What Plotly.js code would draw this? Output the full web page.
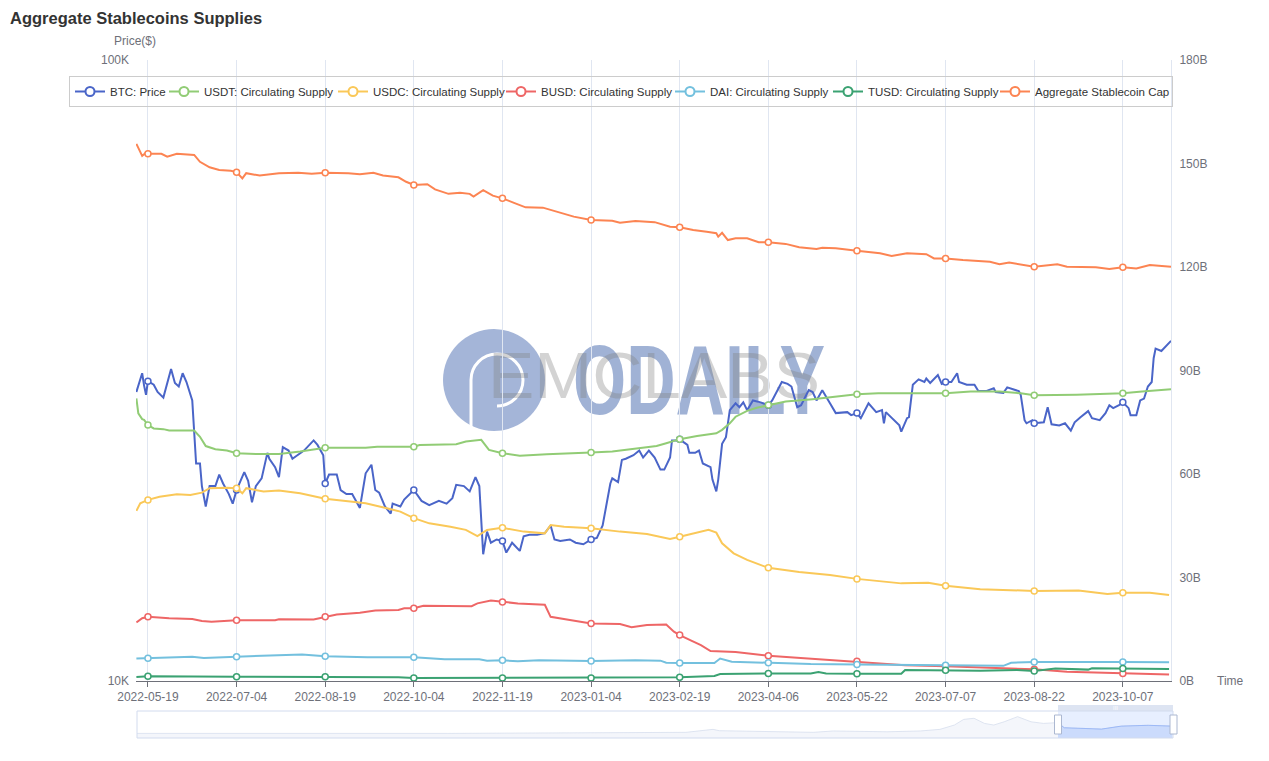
<!DOCTYPE html>
<html>
<head>
<meta charset="utf-8">
<script src="https://cdn.plot.ly/plotly-3.0.1.min.js"></script>
<style>html,body{margin:0;padding:0;background:#fff;}#chart{width:1269px;height:761px;}</style>
</head>
<body>
<div id="chart"></div>
<script>
// ---- DATA (day offset from 2022-05-19, value) ----
const seriesNames = ['BTC: Price','USDT: Circulating Supply','USDC: Circulating Supply','BUSD: Circulating Supply','DAI: Circulating Supply','TUSD: Circulating Supply','Aggregate Stablecoin Cap'];
const seriesColors = ['#4a65c8','#91cc75','#fac858','#ee6666','#73c0de','#3ba272','#fc8452'];

// BTC price, thousands of USD
const btcK = [[-6,29.2],[-3,31.3],[-2,29.9],[-1,28.9],[0,30.4],[3,30.0],[5,29.2],[8,28.6],[12,31.8],[14,30.2],[16,29.8],[18,31.3],[20,30.3],[23,28.3],[25,22.4],[27,22.4],[28,20.6],[30,19.1],[32,20.6],[35,20.6],[37,21.5],[39,20.8],[42,20.0],[44,19.3],[46,20.3],[50,21.7],[52,21.0],[54,19.4],[56,20.6],[59,21.2],[62,23.3],[63,22.8],[66,22.1],[68,21.3],[70,23.8],[73,23.5],[75,22.8],[79,23.3],[81,23.5],[86,24.4],[88,24.0],[91,23.1],[92,20.8],[94,21.5],[98,21.5],[100,20.3],[103,20.0],[106,20.0],[110,19.0],[113,21.6],[116,22.3],[118,20.3],[120,20.1],[123,19.1],[126,18.6],[127,19.3],[131,19.1],[133,19.6],[138,20.3],[142,19.5],[146,19.2],[151,19.5],[155,19.3],[158,19.7],[160,20.7],[164,20.6],[167,20.2],[170,21.3],[172,20.6],[174,16.0],[176,17.4],[178,16.7],[181,16.9],[184,16.8],[186,16.1],[189,16.7],[193,16.2],[195,17.1],[198,17.2],[202,17.2],[206,17.3],[209,17.8],[211,16.9],[214,16.8],[219,16.9],[222,16.7],[226,16.6],[230,16.9],[233,17.0],[236,17.8],[240,20.8],[241,21.2],[244,20.9],[246,22.7],[248,22.8],[252,23.1],[255,23.5],[257,22.9],[260,23.5],[263,22.9],[266,21.9],[268,21.9],[271,22.9],[272,24.4],[274,24.4],[276,24.5],[280,24.0],[281,23.3],[284,23.3],[286,23.5],[288,22.4],[292,22.1],[293,21.1],[295,20.2],[296,21.1],[298,24.1],[300,24.7],[302,27.3],[305,28.0],[307,27.6],[309,28.1],[311,27.3],[314,28.3],[318,28.1],[322,27.8],[324,28.3],[329,30.3],[332,30.1],[334,29.8],[337,27.6],[339,27.8],[343,29.4],[345,29.2],[347,28.3],[350,29.4],[354,28.0],[357,27.0],[363,27.1],[365,26.8],[368,27.0],[370,26.5],[374,28.0],[378,27.1],[381,27.3],[382,26.0],[383,27.1],[387,26.3],[390,25.8],[391,25.2],[394,26.5],[395,26.6],[397,30.0],[400,30.6],[403,30.3],[404,30.7],[406,30.2],[410,31.1],[412,30.1],[414,30.3],[417,30.3],[420,31.3],[421,30.3],[425,30.0],[429,30.0],[431,29.3],[435,29.3],[439,29.6],[440,29.2],[444,29.1],[446,29.7],[449,29.5],[452,29.3],[453,28.9],[455,26.3],[456,26.0],[459,26.3],[460,26.0],[464,26.1],[465,26.1],[467,27.6],[469,25.9],[473,25.8],[476,26.0],[479,25.3],[481,26.1],[484,26.6],[488,27.2],[490,26.5],[494,26.3],[497,27.0],[499,27.8],[501,27.5],[504,27.8],[506,28.1],[509,27.5],[510,26.8],[513,26.8],[515,28.3],[517,28.5],[519,29.8],[521,30.3],[522,33.1],[523,34.3],[526,34.0],[528,34.5],[529,34.8],[531,35.3]];

// Stablecoin supplies, billions of USD
const usdtB = [[-6,81.9],[-5,77.6],[-3,75.9],[-2,75.7],[0,74.2],[3,73.2],[8,73.0],[11,72.6],[24,72.6],[27,70.8],[30,68.1],[35,67.2],[41,66.8],[46,66.0],[56,65.8],[68,65.8],[79,66.5],[88,67.4],[92,67.6],[113,67.6],[119,67.9],[138,67.9],[141,68.4],[160,68.6],[165,69.4],[173,69.9],[175,68.5],[177,67.0],[184,66.0],[193,65.3],[207,65.7],[217,66.0],[230,66.2],[241,66.5],[254,67.4],[264,68.1],[269,68.9],[276,70.1],[285,71.0],[295,71.8],[298,72.8],[302,74.7],[305,76.6],[311,78.3],[316,79.2],[322,80.0],[331,81.0],[345,81.7],[356,82.4],[368,83.1],[379,83.4],[395,83.4],[414,83.4],[427,83.9],[442,83.9],[453,83.4],[460,82.8],[482,83.0],[506,83.4],[516,83.9],[531,84.6]];

const usdcB = [[-6,49.3],[-4,51.5],[0,52.5],[6,53.4],[15,54.1],[22,53.9],[28,54.6],[32,55.9],[41,56.0],[46,55.9],[49,54.4],[51,55.9],[60,54.9],[68,55.2],[79,54.4],[92,52.8],[105,52.0],[113,51.5],[124,50.1],[131,49.1],[138,47.2],[146,45.7],[157,44.7],[165,43.8],[171,42.0],[176,43.8],[182,44.3],[184,44.4],[195,43.3],[206,42.8],[209,45.2],[216,44.7],[230,44.3],[245,43.3],[259,42.6],[271,41.2],[276,41.8],[285,43.0],[291,43.8],[295,43.0],[298,39.9],[304,37.0],[311,35.1],[322,32.8],[338,31.6],[354,30.7],[368,29.6],[391,28.3],[405,28.5],[414,27.6],[432,26.6],[460,26.1],[483,26.2],[498,25.2],[506,25.6],[520,25.6],[530,24.9]];

const busdB = [[-6,17.0],[-3,18.2],[0,18.6],[11,18.2],[23,18.0],[28,17.4],[33,17.2],[46,17.6],[66,17.6],[68,17.9],[86,17.8],[92,18.6],[98,19.3],[110,19.8],[118,20.4],[130,20.6],[133,21.1],[138,21.1],[143,21.8],[168,21.7],[171,22.5],[178,23.3],[184,22.9],[192,22.5],[206,22.1],[209,18.6],[219,17.7],[230,16.7],[245,16.5],[251,15.6],[259,16.2],[269,16.4],[273,14.3],[276,13.3],[282,11.7],[287,10.4],[292,8.7],[305,8.4],[322,7.3],[335,6.8],[354,6.1],[368,5.7],[393,4.6],[414,4.3],[442,3.7],[460,3.4],[477,2.7],[506,2.2],[530,1.9]];

const daiB = [[-6,6.5],[0,6.6],[23,7.0],[29,6.7],[46,7.0],[61,7.3],[80,7.7],[92,7.2],[114,6.9],[138,6.9],[154,6.3],[172,6.3],[176,5.9],[184,6.0],[192,5.7],[203,6.0],[230,5.8],[253,6.0],[266,5.9],[269,5.3],[276,5.2],[294,5.2],[297,6.5],[303,5.6],[322,5.3],[344,4.9],[368,4.8],[393,4.6],[414,4.6],[444,4.4],[448,5.3],[460,5.5],[506,5.5],[530,5.4]];

const tusdB = [[-6,1.16],[0,1.35],[46,1.25],[92,1.25],[130,1.07],[138,0.87],[184,0.87],[230,0.87],[276,1.07],[294,1.45],[297,2.0],[322,2.2],[344,2.2],[348,2.6],[352,2.2],[368,2.1],[391,2.1],[393,3.2],[414,3.1],[432,3.0],[451,3.2],[460,2.9],[471,3.6],[488,3.3],[490,3.7],[506,3.6],[530,3.5]];

const aggB = [[-6,155.7],[-3,152.2],[-1,153.2],[0,152.8],[7,152.8],[10,152.0],[15,152.8],[24,152.5],[27,150.5],[32,148.9],[37,148.1],[43,147.9],[46,147.5],[49,145.7],[51,147.2],[58,146.5],[68,147.2],[78,147.3],[85,147.0],[92,147.3],[104,147.2],[110,146.9],[117,147.3],[122,146.5],[130,146.0],[134,144.7],[138,143.8],[145,144.0],[149,142.5],[156,141.2],[162,141.5],[167,141.2],[169,140.4],[174,142.3],[179,140.7],[184,139.9],[190,138.6],[196,137.3],[205,137.2],[213,136.0],[221,134.6],[230,133.6],[241,133.4],[245,132.8],[253,133.3],[263,133.0],[271,131.7],[276,131.5],[283,130.7],[290,130.2],[295,129.8],[296,128.8],[298,129.9],[301,127.8],[305,128.3],[311,128.3],[317,127.2],[322,127.2],[331,126.7],[338,125.7],[347,125.2],[350,125.6],[357,125.4],[368,124.7],[380,124.0],[386,123.2],[394,124.0],[404,123.7],[408,122.5],[414,122.5],[423,122.0],[437,121.5],[442,120.8],[447,121.3],[460,120.1],[472,120.8],[477,120.1],[492,119.9],[499,119.4],[506,119.9],[513,119.6],[520,120.6],[531,120.1]];

// Overview curve in the zoom slider: [position 0..1, relative level 0..1]
const overview = [[0,0.17],[0.3,0.17],[0.53,0.21],[0.556,0.32],[0.562,0.27],[0.607,0.23],[0.653,0.21],[0.672,0.26],[0.724,0.23],[0.756,0.26],[0.775,0.32],[0.789,0.48],[0.798,0.69],[0.808,0.73],[0.818,0.54],[0.827,0.48],[0.837,0.60],[0.85,0.79],[0.863,0.60],[0.875,0.54],[0.889,0.57],[0.895,0.38],[0.931,0.33],[0.95,0.44],[0.976,0.47],[0.999,0.44]];
const sliderStart = 0.889;

const leftTicks = [10000, 100000];
const leftTickText = ['10K', '100K'];

// ---- BUILD ----
const DAY = 86400000;
const BASE = Date.UTC(2022, 4, 19);
function fmt(ms) { return new Date(ms).toISOString().slice(0, 16).replace('T', ' '); }
function dateOf(d) { return fmt(BASE + d * DAY); }
const TICK_STEP = 46;

const FONT = 'Helvetica Neue, Helvetica, Arial, Liberation Sans, sans-serif';
const legendWidths = [49, 124, 123, 124, 113, 122, 132];
const seriesData = [
  {pts: btcK, scale: 1000, axis: 'y'},
  {pts: usdtB, scale: 1, axis: 'y2'},
  {pts: usdcB, scale: 1, axis: 'y2'},
  {pts: busdB, scale: 1, axis: 'y2'},
  {pts: daiB, scale: 1, axis: 'y2'},
  {pts: tusdB, scale: 1, axis: 'y2'},
  {pts: aggB, scale: 1, axis: 'y2'}
];

const traces = [];
seriesData.forEach((s, i) => {
  traces.push({
    type: 'scatter', mode: 'lines', name: seriesNames[i], legendgroup: 'g' + i, showlegend: false,
    x: s.pts.map(p => dateOf(p[0])), y: s.pts.map(p => p[1] * s.scale),
    yaxis: s.axis, line: {color: seriesColors[i], width: 2}, hoverinfo: 'skip'
  });
});
seriesData.forEach((s, i) => {
  const m = s.pts.filter(p => p[0] >= 0 && p[0] % TICK_STEP === 0);
  traces.push({
    type: 'scatter', mode: 'markers', legendgroup: 'g' + i, showlegend: false,
    x: m.map(p => dateOf(p[0])), y: m.map(p => p[1] * s.scale), yaxis: s.axis,
    marker: {size: 6, color: '#fff', line: {color: seriesColors[i], width: 1.5}}, hoverinfo: 'skip'
  });
});
seriesData.forEach((s, i) => {
  traces.push({
    type: 'scatter', mode: 'lines+markers', name: seriesNames[i], legendgroup: 'g' + i, showlegend: true,
    legendwidth: legendWidths[i],
    x: [null], y: [null], yaxis: s.axis,
    line: {color: seriesColors[i], width: 2},
    marker: {size: 9, color: '#fff', line: {color: seriesColors[i], width: 2}}
  });
});
traces.push({
  type: 'scatter', mode: 'lines', x: overview.map(p => p[0]), y: overview.map(p => p[1]),
  xaxis: 'x2', yaxis: 'y3', fill: 'tozeroy', fillcolor: 'rgba(210,219,238,0.25)',
  line: {color: '#d7deee', width: 0.8}, showlegend: false, hoverinfo: 'skip'
});
const sel = overview.filter(p => p[0] >= sliderStart);
traces.push({
  type: 'scatter', mode: 'lines', x: sel.map(p => p[0]), y: sel.map(p => p[1]),
  xaxis: 'x2', yaxis: 'y3', fill: 'tozeroy', fillcolor: 'rgba(135,175,255,0.25)',
  line: {color: '#8fb0f7', width: 0.8}, showlegend: false, hoverinfo: 'skip'
});

// pixel helpers for layout decorations (plot box: x 60..1209, y 60..741)
const L = 60, T = 60, W = 1149, H = 681;
const px = v => (v - L) / W;
const py = v => (T + H - v) / H;

const wm = '<svg xmlns="http://www.w3.org/2000/svg" width="410" height="130" viewBox="0 0 410 130">' +
  '<circle cx="64" cy="68" r="51" fill="rgb(126,150,199)" fill-opacity="0.7"/>' +
  '<path d="M41 116 L41 68 A26 26 0 0 1 93 68 A26 26 0 0 1 67 94" fill="none" stroke="#fff" stroke-width="3"/>' +
  '<text x="143" y="102" font-family="Liberation Sans Narrow, Liberation Sans, Arial, sans-serif" font-weight="bold" font-size="99" textLength="252" lengthAdjust="spacingAndGlyphs" fill="rgb(120,145,195)" fill-opacity="0.7">ODAILY</text>' +
  '<text x="58" y="86" font-family="Liberation Sans, Arial, sans-serif" font-size="64" textLength="332" lengthAdjust="spacingAndGlyphs" fill="rgb(130,130,130)" fill-opacity="0.35">EMCLABS</text>' +
  '</svg>';

const selX0 = 137 + sliderStart * 1036;
const layout = {
  width: 1269, height: 761,
  margin: {l: L, r: 1269 - L - W, t: T, b: 761 - T - H},
  paper_bgcolor: '#fff', plot_bgcolor: 'rgba(0,0,0,0)',
  font: {family: FONT, size: 12, color: '#6e7079'},
  title: {text: 'Aggregate Stablecoins Supplies', x: 10 / 1269, xref: 'container', xanchor: 'left',
          y: 1 - 18 / 761, yref: 'container', yanchor: 'middle',
          font: {family: FONT, size: 16.5, color: '#333', weight: 'bold'}},
  showlegend: true,
  legend: {orientation: 'h', x: px(69), xanchor: 'left', y: py(76), yanchor: 'top',
           bordercolor: '#ccc', borderwidth: 1, bgcolor: 'rgba(0,0,0,0)',
           font: {family: FONT, size: 11.5, color: '#333'}, traceorder: 'normal'},
  xaxis: {type: 'date', domain: [px(136), px(1171)], range: [fmt(BASE - 6.2 * DAY), fmt(BASE + 531 * DAY)],
          tick0: '2022-05-19', dtick: TICK_STEP * DAY, tickformat: '%Y-%m-%d',
          showgrid: true, gridcolor: '#e0e6f1', gridwidth: 1, zeroline: false,
          showline: true, linecolor: '#6e7079', linewidth: 1, ticks: 'outside', ticklen: 5, tickcolor: '#6e7079',
          tickfont: {size: 12, color: '#6e7079'}, anchor: 'y', fixedrange: true},
  yaxis: {type: 'log', domain: [py(681), 1], range: [4, 5], tickvals: leftTicks, ticktext: leftTickText,
          showgrid: false, zeroline: false, showline: false, ticks: '', ticklabelstandoff: 6,
          tickfont: {size: 12, color: '#6e7079'}, anchor: 'x', fixedrange: true},
  yaxis2: {overlaying: 'y', side: 'right', anchor: 'x', range: [0, 180], dtick: 30, ticksuffix: 'B',
           showgrid: false, zeroline: false, showline: true, linecolor: '#e0e6f1', ticks: '', ticklabelstandoff: 5,
           tickfont: {size: 12, color: '#6e7079'}, fixedrange: true},
  xaxis2: {domain: [px(137), px(1173)], range: [0, 1], anchor: 'y3', visible: false, fixedrange: true},
  yaxis3: {domain: [py(738), py(711)], range: [0, 1], anchor: 'x2', visible: false, fixedrange: true},
  images: [{source: 'data:image/svg+xml;charset=utf-8,' + encodeURIComponent(wm),
            xref: 'paper', yref: 'paper', x: px(430), y: py(312), sizex: 410 / W, sizey: 130 / H,
            xanchor: 'left', yanchor: 'top', sizing: 'stretch', layer: 'below', opacity: 1}],
  shapes: [
    {type: 'rect', xref: 'paper', yref: 'paper', x0: px(137), x1: px(1173), y0: py(738), y1: py(711),
     line: {color: '#d2dbee', width: 1}, fillcolor: 'rgba(0,0,0,0)', layer: 'above'},
    {type: 'rect', xref: 'paper', yref: 'paper', x0: px(selX0), x1: px(1173), y0: py(738), y1: py(711),
     line: {width: 0}, fillcolor: 'rgba(135,175,255,0.2)', layer: 'below'},
    {type: 'rect', xref: 'paper', yref: 'paper', x0: px(selX0), x1: px(1173), y0: py(711), y1: py(705),
     line: {width: 0}, fillcolor: 'rgba(210,219,238,0.75)', layer: 'above'},
    {type: 'rect', xref: 'paper', yref: 'paper', x0: px(selX0 - 3.5), x1: px(selX0 + 3.5), y0: py(734), y1: py(715),
     line: {color: '#acb8d1', width: 1}, fillcolor: '#fff', layer: 'above'},
    {type: 'rect', xref: 'paper', yref: 'paper', x0: px(1170), x1: px(1177), y0: py(734), y1: py(715),
     line: {color: '#acb8d1', width: 1}, fillcolor: '#fff', layer: 'above'}
  ],
  annotations: [
    {text: 'Price($)', xref: 'paper', yref: 'paper', x: px(135), y: py(41), xanchor: 'center', yanchor: 'middle',
     showarrow: false, font: {family: FONT, size: 12, color: '#6e7079'}},
    {text: 'Time', xref: 'paper', yref: 'paper', x: px(1230), y: py(681), xanchor: 'center', yanchor: 'middle',
     showarrow: false, font: {family: FONT, size: 12, color: '#6e7079'}},
    {text: 'III', xref: 'paper', yref: 'paper', x: px((selX0 + 1173) / 2), y: py(708), xanchor: 'center', yanchor: 'middle',
     showarrow: false, font: {family: FONT, size: 6, color: '#ffffff'}}
  ],
  hovermode: false
};

Plotly.newPlot('chart', traces, layout, {displayModeBar: false, staticPlot: true});
</script>
</body>
</html>
